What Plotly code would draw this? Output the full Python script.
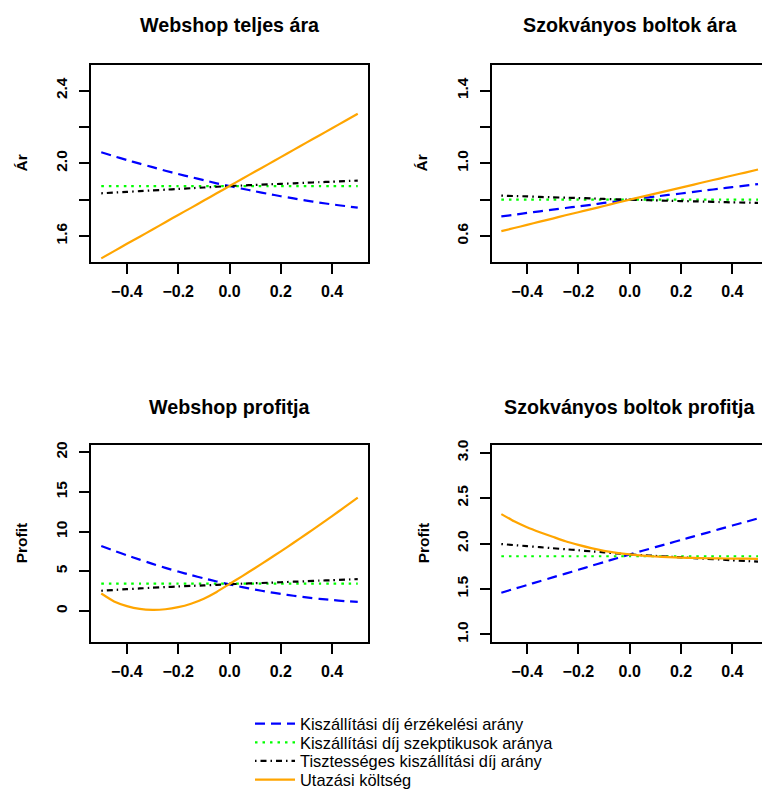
import plotly.graph_objects as go

# Shared x grid for every panel
x = [-0.5, -0.45, -0.4, -0.35, -0.3, -0.25, -0.2, -0.15, -0.1, -0.05, 0.0,
     0.05, 0.1, 0.15, 0.2, 0.25, 0.3, 0.35, 0.4, 0.45, 0.5]

series_names = [
    "Kiszállítási díj érzékelési arány",
    "Kiszállítási díj szekptikusok aránya",
    "Tisztességes kiszállítási díj arány",
    "Utazási költség",
]

# Webshop teljes ára
web_price_erzek = [2.061, 2.039, 2.018, 1.998, 1.979, 1.959, 1.941, 1.924, 1.907, 1.890, 1.875,
                   1.860, 1.846, 1.832, 1.819, 1.807, 1.795, 1.784, 1.774, 1.765, 1.756]
web_price_szkept = [1.875, 1.875, 1.875, 1.875, 1.875, 1.875, 1.875, 1.875, 1.875, 1.875, 1.875,
                    1.875, 1.875, 1.875, 1.875, 1.875, 1.875, 1.875, 1.875, 1.875, 1.875]
web_price_tiszt = [1.835, 1.839, 1.843, 1.847, 1.851, 1.855, 1.859, 1.863, 1.867, 1.871, 1.875,
                   1.878, 1.881, 1.884, 1.887, 1.890, 1.893, 1.896, 1.899, 1.902, 1.905]
web_price_utaz = [1.477, 1.517, 1.557, 1.596, 1.636, 1.676, 1.716, 1.755, 1.795, 1.835, 1.875,
                  1.915, 1.955, 1.994, 2.034, 2.074, 2.114, 2.153, 2.193, 2.233, 2.273]

# Szokványos boltok ára
shop_price_erzek = [0.708, 0.717, 0.727, 0.736, 0.745, 0.754, 0.763, 0.772, 0.782, 0.791, 0.800,
                    0.809, 0.817, 0.826, 0.834, 0.843, 0.852, 0.860, 0.869, 0.877, 0.886]
shop_price_szkept = [0.800, 0.800, 0.800, 0.800, 0.800, 0.800, 0.800, 0.800, 0.800, 0.800, 0.800,
                     0.800, 0.800, 0.800, 0.800, 0.800, 0.800, 0.800, 0.800, 0.800, 0.800]
shop_price_tiszt = [0.822, 0.820, 0.818, 0.815, 0.813, 0.811, 0.809, 0.807, 0.804, 0.802, 0.800,
                    0.798, 0.796, 0.794, 0.792, 0.791, 0.789, 0.787, 0.785, 0.784, 0.782]
shop_price_utaz = [0.627, 0.644, 0.661, 0.679, 0.696, 0.714, 0.731, 0.748, 0.765, 0.783, 0.800,
                   0.817, 0.833, 0.850, 0.866, 0.883, 0.900, 0.916, 0.933, 0.949, 0.966]

# Webshop profitja
web_profit_erzek = [8.20, 7.60, 7.02, 6.47, 5.94, 5.44, 4.97, 4.53, 4.11, 3.72, 3.35,
                    3.01, 2.70, 2.41, 2.15, 1.92, 1.71, 1.53, 1.38, 1.25, 1.15]
web_profit_szkept = [3.45, 3.45, 3.45, 3.45, 3.45, 3.45, 3.45, 3.45, 3.45, 3.45, 3.45,
                     3.45, 3.45, 3.45, 3.45, 3.45, 3.45, 3.45, 3.45, 3.45, 3.45]
web_profit_tiszt = [2.55, 2.65, 2.75, 2.84, 2.93, 3.01, 3.09, 3.16, 3.23, 3.30, 3.37,
                    3.44, 3.50, 3.56, 3.62, 3.69, 3.75, 3.82, 3.88, 3.95, 4.02]
web_profit_utaz = [2.20, 1.20, 0.62, 0.26, 0.14, 0.22, 0.48, 0.92, 1.55, 2.40, 3.40,
                   4.40, 5.42, 6.46, 7.52, 8.60, 9.70, 10.82, 11.96, 13.12, 14.30]

# Szokványos boltok profitja
shop_profit_erzek = [1.458, 1.501, 1.543, 1.585, 1.627, 1.669, 1.711, 1.754, 1.796, 1.838, 1.880,
                     1.920, 1.960, 1.999, 2.039, 2.079, 2.118, 2.158, 2.198, 2.237, 2.277]
shop_profit_szkept = [1.860, 1.860, 1.860, 1.860, 1.860, 1.860, 1.860, 1.860, 1.860, 1.860, 1.860,
                      1.860, 1.860, 1.860, 1.860, 1.860, 1.860, 1.860, 1.860, 1.860, 1.860]
shop_profit_tiszt = [1.994, 1.983, 1.971, 1.960, 1.948, 1.937, 1.926, 1.914, 1.903, 1.891, 1.880,
                     1.872, 1.864, 1.856, 1.848, 1.840, 1.832, 1.824, 1.816, 1.808, 1.800]
shop_profit_utaz = [2.324, 2.245, 2.180, 2.125, 2.075, 2.025, 1.985, 1.950, 1.920, 1.897, 1.880,
                    1.867, 1.857, 1.850, 1.845, 1.841, 1.838, 1.836, 1.834, 1.833, 1.832]

panel_titles = ["Webshop teljes ára", "Szokványos boltok ára",
                "Webshop profitja", "Szokványos boltok profitja"]
y_titles = ["Ár", "Ár", "Profit", "Profit"]

x_tickvals = [-0.4, -0.2, 0.0, 0.2, 0.4]
x_ticktext = ["−0.4", "−0.2", "0.0", "0.2", "0.4"]

y_tickvals = [
    [1.6, 1.8, 2.0, 2.2, 2.4],
    [0.6, 0.8, 1.0, 1.2, 1.4],
    [0, 5, 10, 15, 20],
    [1.0, 1.5, 2.0, 2.5, 3.0],
]
y_ticktext = [
    ["1.6", "", "2.0", "", "2.4"],
    ["0.6", "", "1.0", "", "1.4"],
    ["0", "5", "10", "15", "20"],
    ["1.0", "1.5", "2.0", "2.5", "3.0"],
]

panels = [
    [web_price_erzek, web_price_szkept, web_price_tiszt, web_price_utaz],
    [shop_price_erzek, shop_price_szkept, shop_price_tiszt, shop_price_utaz],
    [web_profit_erzek, web_profit_szkept, web_profit_tiszt, web_profit_utaz],
    [shop_profit_erzek, shop_profit_szkept, shop_profit_tiszt, shop_profit_utaz],
]

# ---- styling ----
W, H = 762, 792
FONT = "Liberation Sans, Arial, Helvetica, sans-serif"
line_styles = [
    dict(color="#0000FF", dash="10px,6px", width=2.2),
    dict(color="#00FF00", dash="2.5px,5px", width=2.2),
    dict(color="#000000", dash="1.5px,4px,6px,4px", width=2.2),
    dict(color="#FFA500", dash="solid", width=2.2),
]

# plot-box placement in pixels (left, right, top, bottom)
boxes = [
    (91, 368, 65, 262),
    (491.7, 762, 65, 262),
    (91, 368, 445, 641.7),
    (491.7, 762, 445, 641.7),
]
x_ranges = [[-0.54, 0.54], [-0.5375, 0.5155], [-0.54, 0.54], [-0.5375, 0.5155]]
y_ranges = [[1.457, 2.541], [0.457, 1.541], [-3.87, 20.92], [0.919, 3.085]]
title_centers = [(229.5, 25), (630, 25), (229.5, 407), (630, 407)]
ytitle_x = [21, 421, 21, 423]

fig = go.Figure()
layout = dict(
    width=W, height=H, autosize=False,
    margin=dict(l=0, r=0, t=0, b=0, autoexpand=False),
    paper_bgcolor="white", plot_bgcolor="white",
    font=dict(family=FONT, color="black"),
    showlegend=True,
    annotations=[],
)

legend_rows = [724, 742.7, 761.3, 780]
legend_ids = ["legend", "legend2", "legend3", "legend4"]

for p in range(4):
    suffix = "" if p == 0 else str(p + 1)
    xa, ya = "x" + suffix, "y" + suffix
    for s in range(4):
        fig.add_trace(go.Scatter(
            x=x, y=panels[p][s], mode="lines",
            line=dict(**line_styles[s], shape="spline", smoothing=0.5),
            name=series_names[s], legendgroup=series_names[s],
            showlegend=(p == 0), legend=legend_ids[s],
            xaxis=xa, yaxis=ya, hoverinfo="skip",
        ))
    l, r, t, b = boxes[p]
    right_panel = p in (1, 3)
    layout["xaxis" + suffix] = dict(
        domain=[l / W, r / W], range=x_ranges[p], anchor=ya,
        tickvals=x_tickvals, ticktext=x_ticktext,
        ticks="outside", ticklen=10, tickwidth=1.6, tickcolor="black",
        showline=True, linecolor="black", linewidth=1.8, mirror=True,
        showgrid=False, zeroline=False,
        tickfont=dict(size=16, family=FONT, weight="bold"),
        ticklabelstandoff=4, automargin=False,
    )
    layout["yaxis" + suffix] = dict(
        domain=[1 - b / H, 1 - t / H], range=y_ranges[p], anchor=xa,
        tickvals=y_tickvals[p], ticktext=y_ticktext[p],
        ticks="outside", ticklen=10, tickwidth=1.6, tickcolor="black",
        showline=True, linecolor="black", linewidth=1.8,
        mirror=(not right_panel),
        showgrid=False, zeroline=False, tickangle=-90,
        tickfont=dict(size=15.5, family=FONT, weight="bold"),
        ticklabelstandoff=6, automargin=False,
    )
    tx, ty = title_centers[p]
    layout["annotations"].append(dict(
        text=panel_titles[p], xref="paper", yref="paper",
        x=tx / W, y=1 - ty / H, xanchor="center", yanchor="middle",
        showarrow=False, font=dict(size=19.7, family=FONT, weight="bold"),
    ))
    layout["annotations"].append(dict(
        text=y_titles[p], xref="paper", yref="paper",
        x=ytitle_x[p] / W, y=1 - ((t + b) / 2) / H, xanchor="center", yanchor="middle",
        textangle=-90, showarrow=False,
        font=dict(size=15.5, family=FONT, weight="bold"),
    ))

for i, lid in enumerate(legend_ids):
    layout[lid] = dict(
        x=250 / W, y=1 - legend_rows[i] / H, xanchor="left", yanchor="middle",
        xref="container", yref="container",
        bgcolor="rgba(0,0,0,0)", borderwidth=0,
        font=dict(size=16.4, family=FONT, color="black"),
        itemwidth=40, itemclick="toggle",
    )

fig.update_layout(**layout)
fig.write_html("out.html")
